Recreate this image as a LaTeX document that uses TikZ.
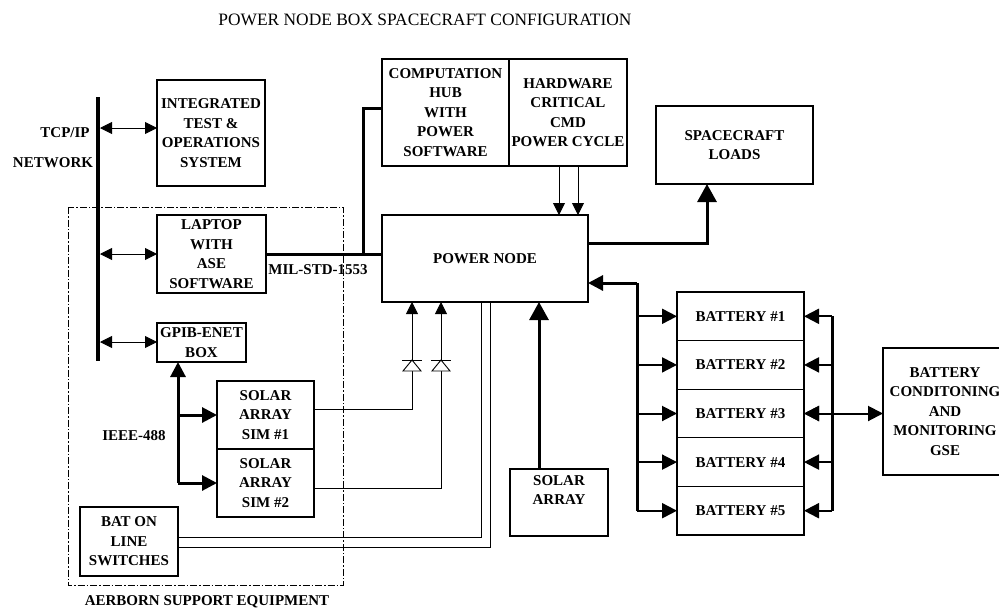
\documentclass[tikz,border=0pt]{standalone}
\usepackage{fontspec}
\setmainfont{Liberation Serif}
\usetikzlibrary{positioning,arrows.meta}

\begin{document}
\begin{tikzpicture}
[
x=1pt, y=-1pt,
box-a/.style={draw, line width=1.1pt, inner sep=0pt, outer sep=0pt, align=center, font=\bfseries\fontsize{15}{19.5}\selectfont},
text-a/.style={black, inner sep=0pt, font=\bfseries\fontsize{15}{19.5}\selectfont},
bus-a/.style={line width=4pt},
wire-a/.style={line width=0.9pt},
wire-b/.style={line width=2pt},
wire-c/.style={line width=3pt},
tip-a/.style={-{Triangle[length=12pt,width=12pt]}},
tip-b/.style={{Triangle[length=12pt,width=12pt]}-{Triangle[length=12pt,width=12pt]}},
tip-c/.style={-{Triangle[length=18pt,width=19pt]}},
tip-d/.style={-{Triangle[length=15pt,width=15pt]}},
tip-e/.style={{Triangle[length=15pt,width=15pt]}-{Triangle[length=15pt,width=15pt]}},
frame-a/.style={line width=0.9pt, dash pattern=on 7pt off 2pt on 1.5pt off 2pt},
diode-a/.pic={\draw[line width=0.9pt, fill=white] (-9,5) -- (9,5) -- (0,-6) -- cycle;
              \draw[line width=0.9pt] (-10,-6) -- (10,-6);}
]
\useasboundingbox (0,0) rectangle (999,611);

% title
\node (title)       [inner sep=0pt, font=\fontsize{17.4}{20}\selectfont] at (425,20) {POWER NODE BOX SPACECRAFT CONFIGURATION};

% ground equipment
\node (itos)        [box-a, minimum width=108pt, minimum height=106pt] at (211,133)   {INTEGRATED\\TEST \&\\OPERATIONS\\SYSTEM};
\node (laptop)      [box-a, minimum width=109pt, minimum height=78pt]  at (211.5,254) {LAPTOP\\WITH\\ASE\\SOFTWARE};
\node (gpib)        [box-a, minimum width=89pt,  minimum height=39pt]  at (201.5,342.5) {GPIB-ENET\\BOX};
\node (sim-1)       [box-a, minimum width=97pt,  minimum height=68pt]  at (265.5,415) {SOLAR\\ARRAY\\SIM \#1};
\node (sim-2)       [box-a, minimum width=97pt,  minimum height=68pt, below = 0pt of sim-1] {SOLAR\\ARRAY\\SIM \#2};
\node (bat-sw)      [box-a, minimum width=98pt,  minimum height=69pt]  at (129,541.5) {BAT ON\\LINE\\SWITCHES};

% spacecraft side
\node (comp-hub)    [box-a, minimum width=127pt, minimum height=107pt] at (445.5,112.5) {COMPUTATION\\HUB\\WITH\\POWER\\SOFTWARE};
\node (hw-crit)     [box-a, minimum width=118pt, minimum height=107pt, right = 0pt of comp-hub] {HARDWARE\\CRITICAL\\CMD\\POWER CYCLE};
\node (power-node)  [box-a, minimum width=206pt, minimum height=87pt]  at (485,258.5) {POWER NODE};
\node (sc-loads)    [box-a, minimum width=157pt, minimum height=78pt]  at (734.5,145) {SPACECRAFT\\LOADS};
\node (solar-array) [box-a, minimum width=98pt,  minimum height=67pt]  at (559,502.5) {SOLAR\\ARRAY\\\strut};

% batteries
\node (bat-1)       [box-a, minimum width=127pt, minimum height=48.6pt] at (740.5,316.3) {BATTERY \#1};
\node (bat-2)       [box-a, minimum width=127pt, minimum height=48.6pt, below = 0pt of bat-1] {BATTERY \#2};
\node (bat-3)       [box-a, minimum width=127pt, minimum height=48.6pt, below = 0pt of bat-2] {BATTERY \#3};
\node (bat-4)       [box-a, minimum width=127pt, minimum height=48.6pt, below = 0pt of bat-3] {BATTERY \#4};
\node (bat-5)       [box-a, minimum width=127pt, minimum height=48.6pt, below = 0pt of bat-4] {BATTERY \#5};
\node (gse)         [box-a, minimum width=124pt, minimum height=127pt] at (945,411.5) {BATTERY\\CONDITONING\\AND\\MONITORING\\GSE};

% labels
\node (tcp-lbl)     [text-a] at (65,133)  {TCP/IP};
\node (net-lbl)     [text-a] at (53,163)  {NETWORK};
\node (mil-lbl)     [text-a] at (318,270) {MIL-STD-1553};
\node (ieee-lbl)    [text-a] at (134,436) {IEEE-488};
\node (ase-lbl)     [text-a] at (207,602) {AERBORN SUPPORT EQUIPMENT};

% support equipment frame
\draw[frame-a] (68,207) rectangle (343,585);

% network
\coordinate (net-top) at (98,97);
\coordinate (net-bot) at (98,361);
\coordinate (net-1)   at (100,128);
\coordinate (net-2)   at (100,254);
\coordinate (net-3)   at (100,342);
\draw[bus-a] (net-top) -- (net-bot);
\draw[wire-a, tip-b] (net-1) -- (net-1 -| itos.west);
\draw[wire-a, tip-b] (net-2) -- (laptop.west);
\draw[wire-a, tip-b] (net-3) -- (net-3 -| gpib.west);

% MIL-STD-1553 bus
\coordinate (mil-tap) at (363,254);
\draw[wire-c] (laptop.east) -- (laptop.east -| power-node.west);
\draw[wire-c] (mil-tap) |- ([yshift=4.5pt]comp-hub.west);

% hardware commands
\coordinate (hw-a) at (559,166);
\coordinate (hw-b) at (578,166);
\draw[wire-a, tip-a] (hw-a) -- (hw-a |- power-node.north);
\draw[wire-a, tip-a] (hw-b) -- (hw-b |- power-node.north);

% loads
\draw[wire-c, tip-c] ([yshift=15.5pt]power-node.east) -| ([xshift=-27.5pt]sc-loads.south);

% solar array
\coordinate (sa-out) at ([xshift=-20pt]solar-array.north);
\draw[wire-c, tip-c] (sa-out) -- (sa-out |- power-node.south);

% IEEE-488
\coordinate (ieee-top) at (178,362);
\draw[wire-c, tip-d] (ieee-top |- sim-2.west) -- (ieee-top);
\draw[wire-c, tip-d] (ieee-top |- sim-1.west) -- (sim-1.west);
\draw[wire-c, tip-d] (ieee-top |- sim-2.west) -- (sim-2.west);

% simulator outputs through diodes
\coordinate (dio-1) at (412,366);
\coordinate (dio-2) at (441,366);
\draw[wire-a] ([yshift=6pt]sim-1.east) -| (dio-1);
\draw[wire-a] ([yshift=-5pt]sim-2.east) -| (dio-2);
\draw[wire-a, tip-a] (dio-1) -- (dio-1 |- power-node.south);
\draw[wire-a, tip-a] (dio-2) -- (dio-2 |- power-node.south);
\pic at (dio-1) {diode-a};
\pic at (dio-2) {diode-a};

% battery switches
\draw[wire-a] ([yshift=4.5pt]bat-sw.east) -| ([xshift=-4pt]power-node.south);
\draw[wire-a] ([yshift=-5.5pt]bat-sw.east) -| ([xshift=5pt]power-node.south);

% battery buses
\coordinate (bus-l) at (637,283);
\coordinate (bus-r) at (832,316);
\draw[wire-c, tip-d] (bus-l) -- (bus-l -| power-node.east);
\draw[wire-c] (bus-l) -- (bus-l |- bat-5.west);
\draw[wire-c] (bus-r |- bat-1.east) -- (bus-r |- bat-5.east);
\foreach \i in {1,...,5}
{
\draw[wire-b, tip-d] (bus-l |- bat-\i.west) -- (bat-\i.west);
\draw[wire-b, tip-d] (bus-r |- bat-\i.east) -- (bat-\i.east);
}
\draw[wire-b, tip-e] (bat-3.east) -- (bat-3.east -| gse.west);
\end{tikzpicture}
\end{document}
